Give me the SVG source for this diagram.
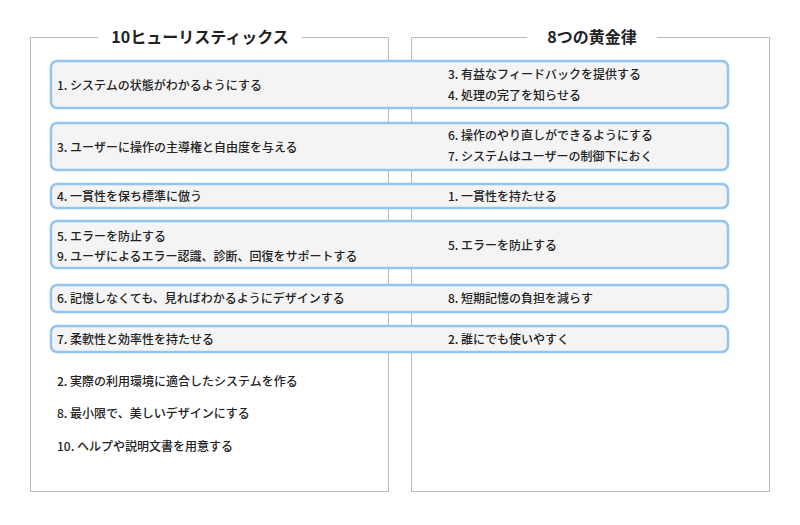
<svg xmlns="http://www.w3.org/2000/svg" width="800" height="525" viewBox="0 0 800 525">
<style>
.t{font-family:"Noto Sans CJK JP","Noto Sans",sans-serif;font-size:12px;font-weight:500;fill:#222}
.h{font-family:"Noto Sans CJK JP","Noto Sans",sans-serif;font-size:16px;font-weight:700;fill:#222}
.r{fill:#f4f4f4;stroke:#92c5f0;stroke-width:2.5}
.p{fill:none;stroke:#bbb;stroke-width:1}
</style>
<rect width="800" height="525" fill="#fff"/>
<g id="panels">
<path class="p" d="M98,37.5H30.5V491.5H388.5V37.5H302"/>
<path class="p" d="M527,37.5H411.5V491.5H769.5V37.5H657"/>
<text class="h" x="200" y="43" text-anchor="middle">10ヒューリスティックス</text>
<text class="h" x="592" y="43" text-anchor="middle">8つの黄金律</text>
</g>
<g id="row1"><rect class="r" x="51" y="61" width="677" height="47" rx="6"/>
<text class="t" x="57" y="90">1. システムの状態がわかるようにする</text>
<text class="t" x="448" y="79">3. 有益なフィードバックを提供する</text>
<text class="t" x="448" y="100">4. 処理の完了を知らせる</text></g>
<g id="row2"><rect class="r" x="51" y="123" width="677" height="47" rx="6"/>
<text class="t" x="57" y="152">3. ユーザーに操作の主導権と自由度を与える</text>
<text class="t" x="448" y="140">6. 操作のやり直しができるようにする</text>
<text class="t" x="448" y="161">7. システムはユーザーの制御下におく</text></g>
<g id="row3"><rect class="r" x="51" y="184" width="677" height="24" rx="6"/>
<text class="t" x="57" y="201">4. 一貫性を保ち標準に倣う</text>
<text class="t" x="448" y="201">1. 一貫性を持たせる</text></g>
<g id="row4"><rect class="r" x="51" y="221" width="677" height="47" rx="6"/>
<text class="t" x="57" y="241">5. エラーを防止する</text>
<text class="t" x="57" y="261">9. ユーザによるエラー認識、診断、回復をサポートする</text>
<text class="t" x="448" y="250">5. エラーを防止する</text></g>
<g id="row5"><rect class="r" x="51" y="285" width="677" height="27" rx="6"/>
<text class="t" x="57" y="303">6. 記憶しなくても、見ればわかるようにデザインする</text>
<text class="t" x="448" y="303">8. 短期記憶の負担を減らす</text></g>
<g id="row6"><rect class="r" x="51" y="326" width="677" height="26" rx="6"/>
<text class="t" x="57" y="344">7. 柔軟性と効率性を持たせる</text>
<text class="t" x="448" y="344">2. 誰にでも使いやすく</text></g>
<g id="rest">
<text class="t" x="57" y="386">2. 実際の利用環境に適合したシステムを作る</text>
<text class="t" x="57" y="418">8. 最小限で、美しいデザインにする</text>
<text class="t" x="57" y="451">10. ヘルプや説明文書を用意する</text></g>
<g id="connectors"/>
</svg>
